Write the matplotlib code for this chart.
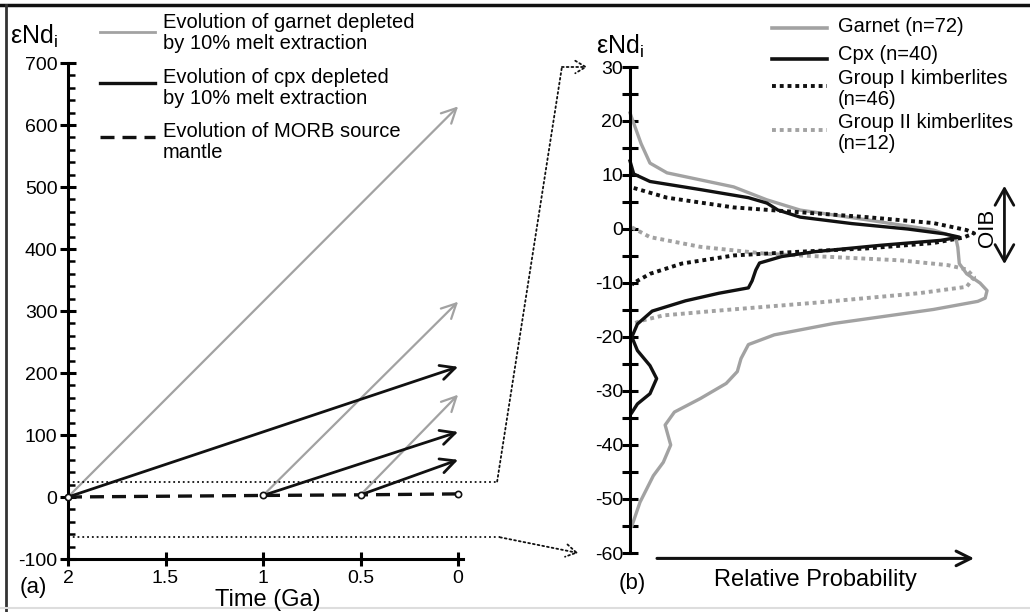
"""Nd isotope evolution (a) and relative probability of eNd_i (b)."""

import matplotlib

matplotlib.use("Agg")
import matplotlib.pyplot as plt
from matplotlib.lines import Line2D
from matplotlib.patches import ConnectionPatch

plt.rcParams["font.family"] = ["Liberation Sans", "DejaVu Sans"]
plt.rcParams["mathtext.fontset"] = "custom"
plt.rcParams["mathtext.rm"] = "Liberation Sans"
plt.rcParams["axes.unicode_minus"] = False

# ---- panel (a) data -------------------------------------------------------
time_ticks = [2, 1.5, 1, 0.5, 0]
morb_t = [2, 1, 0.5, 0]
morb_e = [0, 2.5, 3.5, 5]
start_t = [2, 1, 0.5]
garnet_end = [630, 315, 165]
cpx_end = [210, 105, 60]
window_top, window_bottom = 25, -65      # dotted window copied to panel (b)

# ---- panel (b) data (eNd_i vs relative probability) -----------------------
garnet_y = [21.5, 15.8, 12.2, 10.4, 7.8, 5.4, 3.5, 1.7, -0.2, -1.5, -3.4, -6.4,
            -8.3, -10.0, -11.4, -12.8, -13.4, -14.9, -17.5, -19.6, -21.4, -24.0,
            -26.4, -28.6, -31.4, -33.9, -36.3, -40.0, -43.2, -45.7, -50.6, -55.0]
garnet_p = [0.0, 0.03, 0.054, 0.1, 0.28, 0.37, 0.46, 0.64, 0.82, 0.88, 0.886, 0.89,
            0.91, 0.946, 0.965, 0.96, 0.94, 0.82, 0.55, 0.39, 0.32, 0.30,
            0.29, 0.26, 0.19, 0.12, 0.095, 0.11, 0.09, 0.063, 0.027, 0.005]
cpx_y = [12.6, 10.2, 8.8, 7.3, 5.8, 4.8, 3.5, 2.2, 1.0, 0.0, -0.9, -1.5, -2.1,
         -3.0, -4.2, -5.1, -6.3, -7.6, -9.6, -10.9, -11.9, -13.3, -15.2, -17.6,
         -20.0, -22.5, -25.3, -27.7, -30.5, -32.4, -34.0]
cpx_p = [0.0, 0.01, 0.054, 0.19, 0.32, 0.37, 0.40, 0.46, 0.6, 0.75, 0.85, 0.89, 0.84,
         0.68, 0.5, 0.41, 0.35, 0.34, 0.33, 0.32, 0.24, 0.15, 0.06, 0.02,
         0.005, 0.02, 0.054, 0.072, 0.054, 0.02, 0.005]
kimb1_y = [7.6, 5.8, 4.0, 3.1, 2.2, 1.1, -0.2, -0.8, -1.6, -2.6, -3.6, -4.2, -4.9,
           -6.4, -8.3, -9.6, -10.3]
kimb1_p = [0.01, 0.1, 0.28, 0.46, 0.64, 0.82, 0.91, 0.93, 0.9, 0.82, 0.64, 0.46, 0.28,
           0.14, 0.054, 0.02, 0.005]
kimb2_y = [0.3, -1.5, -3.3, -4.6, -5.2, -5.8, -6.7, -7.5, -8.9, -10.7, -11.9, -13.6,
           -15.1, -16.0, -17.0, -17.5]
kimb2_p = [0.005, 0.054, 0.19, 0.37, 0.55, 0.73, 0.86, 0.91, 0.93, 0.91, 0.78, 0.51,
           0.24, 0.09, 0.03, 0.01]
oib_range = (8, -6.5)

GREY = "#a2a2a2"
BLACK = "#111111"
W, H = 1030, 612


def fx(x):
    return x / W


def fy(y):
    return 1 - y / H


fig = plt.figure(figsize=(W / 100, H / 100), dpi=100)

# ---------------------------------------------------------------- panel (a)
ax1 = fig.add_axes([fx(68), fy(559), fx(463 - 68), (559 - 63) / H])
ax1.set_xlim(2, -0.025)
ax1.set_ylim(-100, 700)
for s in ("top", "right"):
    ax1.spines[s].set_visible(False)
for s in ("left", "bottom"):
    ax1.spines[s].set_linewidth(2.2)
ax1.set_xticks(time_ticks)
ax1.set_xticklabels(["2", "1.5", "1", "0.5", "0"])
ax1.set_yticks(range(-100, 701, 100))
ax1.set_yticks(range(-100, 701, 20), minor=True)
ax1.tick_params(axis="y", which="major", direction="inout", length=11, width=2.2,
                labelsize=14, pad=2)
ax1.tick_params(axis="y", which="minor", direction="in", length=5, width=1.8)
ax1.tick_params(axis="x", which="major", direction="inout", length=10, width=2.2,
                labelsize=14, pad=3)
ax1.set_facecolor("none")

ax1.plot(morb_t, morb_e, color=BLACK, lw=2.4, dashes=(4.2, 2.4), zorder=3)
for t0, g1, c1 in zip(start_t, garnet_end, cpx_end):
    e0 = morb_e[morb_t.index(t0)]
    ax1.annotate("", xy=(0, g1), xytext=(t0, e0),
                 arrowprops=dict(arrowstyle="->,head_length=0.7,head_width=0.35",
                                 color=GREY, lw=1.6, shrinkA=0, shrinkB=0,
                                 mutation_scale=15), zorder=2)
    ax1.annotate("", xy=(0, c1), xytext=(t0, e0),
                 arrowprops=dict(arrowstyle="->,head_length=0.7,head_width=0.35",
                                 color=BLACK, lw=2.0, shrinkA=0, shrinkB=0,
                                 mutation_scale=15), zorder=3)
ax1.plot(morb_t, morb_e, ls="none", marker="o", ms=4.5, mfc="white", mec=BLACK,
         mew=1.2, zorder=4, clip_on=False)

# dotted window
ax1.plot([2, -0.2], [window_top] * 2, color=BLACK, ls=":", lw=1.3, clip_on=False)
ax1.plot([2, -0.215], [window_bottom] * 2, color=BLACK, ls=":", lw=1.3, clip_on=False)

# ---------------------------------------------------------------- panel (b)
ax2 = fig.add_axes([fx(630), fy(553), fx(370), (553 - 67) / H])
ax2.set_xlim(0, 1)
ax2.set_ylim(-60, 30)
for s in ("top", "right", "bottom"):
    ax2.spines[s].set_visible(False)
ax2.spines["left"].set_linewidth(2.2)
ax2.set_xticks([])
ax2.set_yticks(range(-60, 31, 10))
ax2.set_yticks(range(-55, 30, 10), minor=True)
ax2.tick_params(axis="y", which="both", direction="inout", length=12, width=2.2,
                labelsize=14, pad=-1)
ax2.set_facecolor("none")

ax2.plot(kimb2_p, kimb2_y, color=GREY, lw=2.8, dashes=(1, 1), clip_on=False)
ax2.plot(garnet_p, garnet_y, color=GREY, lw=2.4, clip_on=False)
ax2.plot(kimb1_p, kimb1_y, color=BLACK, lw=2.8, dashes=(1, 1), clip_on=False)
ax2.plot(cpx_p, cpx_y, color=BLACK, lw=2.4, clip_on=False)

# OIB range
ax2.annotate("", xy=(1.012, oib_range[0]), xytext=(1.012, oib_range[1]),
             arrowprops=dict(arrowstyle="<->,head_length=0.8,head_width=0.45",
                             color=BLACK, lw=2.0, shrinkA=0, shrinkB=0,
                             mutation_scale=15), annotation_clip=False)
ax2.text(0.965, sum(oib_range) / 2 - 0.5, "OIB", rotation=90, fontsize=16,
         ha="center", va="center")

# relative probability arrow
ax2.annotate("", xy=(0.93, -61), xytext=(0.073, -61),
             arrowprops=dict(arrowstyle="->,head_length=0.7,head_width=0.35",
                             color=BLACK, lw=2.2, shrinkA=0, shrinkB=0,
                             mutation_scale=15), annotation_clip=False)

# connectors from the dotted window in (a) to the axis limits of (b)
fig.add_artist(ConnectionPatch(xyA=(-0.2, window_top), coordsA=ax1.transData,
                               xyB=(-0.184, 30), coordsB=ax2.transData,
                               color=BLACK, ls=":", lw=1.3))
ax2.annotate("", xy=(-0.115, 30), xytext=(-0.184, 30),
             arrowprops=dict(arrowstyle="->,head_length=0.5,head_width=0.3",
                             color=BLACK, lw=1.3, ls=":", shrinkA=0, shrinkB=0,
                             mutation_scale=15), annotation_clip=False)
fig.add_artist(ConnectionPatch(xyA=(-0.215, window_bottom), coordsA=ax1.transData,
                               xyB=(-0.14, -60), coordsB=ax2.transData,
                               color=BLACK, ls=":", lw=1.3,
                               arrowstyle="->,head_length=0.5,head_width=0.3",
                               mutation_scale=15, shrinkA=0, shrinkB=0))

# ---------------------------------------------------------------- text
ylab = "εNd$_\\mathregular{i}$"
fig.text(fx(10), fy(36), ylab, fontsize=18, ha="left", va="center")
fig.text(fx(596), fy(46), ylab, fontsize=18, ha="left", va="center")
fig.text(fx(268), fy(600), "Time (Ga)", fontsize=17, ha="center", va="center")
fig.text(fx(33), fy(588), "(a)", fontsize=16, ha="center", va="center")
fig.text(fx(632), fy(583), "(b)", fontsize=16, ha="center", va="center")
fig.text(fx(815), fy(580), "Relative Probability", fontsize=17, ha="center",
         va="center")

# legend (a)
leg_a = [
    (32, 33, GREY, None, "Evolution of garnet depleted\nby 10% melt extraction"),
    (83, 88, BLACK, None, "Evolution of cpx depleted\nby 10% melt extraction"),
    (137, 142, BLACK, (4.2, 2.4), "Evolution of MORB source\nmantle"),
]
for ly, ty, col, dash, label in leg_a:
    ln = Line2D([fx(100), fx(155)], [fy(ly), fy(ly)], color=col,
                lw=2.0 if col == GREY else 2.4, transform=fig.transFigure)
    if dash:
        ln.set_dashes(dash)
    fig.add_artist(ln)
    fig.text(fx(163), fy(ty), label, fontsize=14.5, ha="left", va="center",
             linespacing=1.12)

# legend (b)
leg_b = [
    (28, 27, GREY, None, "Garnet (n=72)"),
    (59, 55, BLACK, None, "Cpx (n=40)"),
    (86, 89, BLACK, (1, 1), "Group I kimberlites\n(n=46)"),
    (130, 133, GREY, (1, 1), "Group II kimberlites\n(n=12)"),
]
for ly, ty, col, dash, label in leg_b:
    ln = Line2D([fx(772), fx(827)], [fy(ly), fy(ly)], color=col,
                lw=2.8 if dash else 2.6, transform=fig.transFigure)
    if dash:
        ln.set_dashes(dash)
    fig.add_artist(ln)
    fig.text(fx(838), fy(ty), label, fontsize=14.5, ha="left", va="center",
             linespacing=1.12)

# frame around the figure
fig.add_artist(Line2D([0, 1], [fy(5), fy(5)], color=BLACK, lw=2.5,
                      transform=fig.transFigure))
fig.add_artist(Line2D([fx(6), fx(6)], [0, fy(5)], color="#333333", lw=2.0,
                      transform=fig.transFigure))
fig.add_artist(Line2D([0, 1], [fy(608), fy(608)], color="#dddddd", lw=1.5,
                      transform=fig.transFigure))

fig.savefig("out.png", dpi=100, facecolor="white")
